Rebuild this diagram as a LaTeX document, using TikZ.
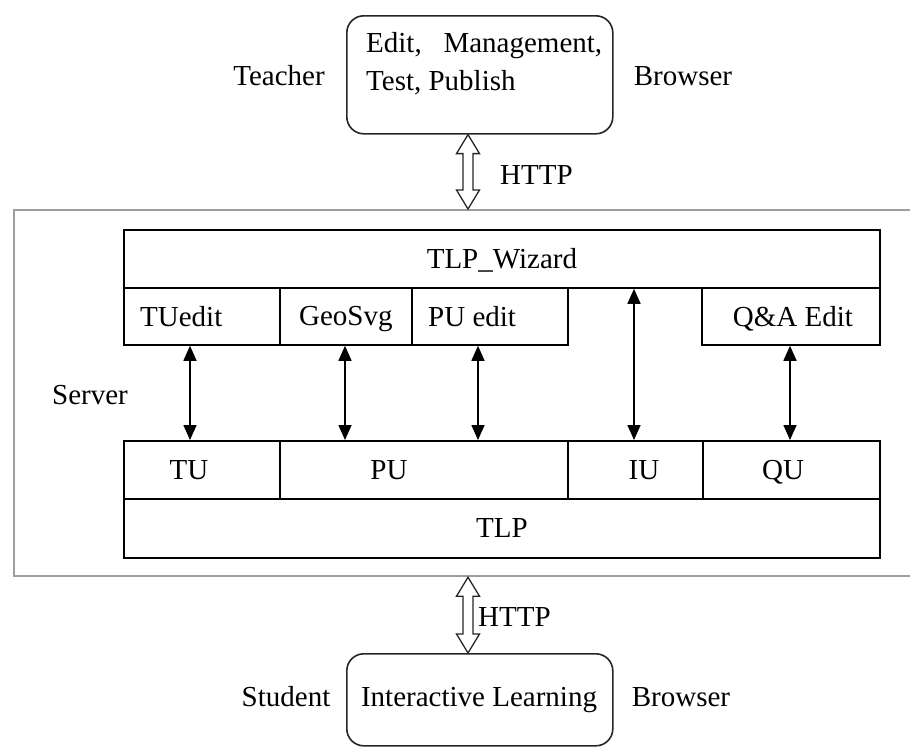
\documentclass[tikz,border=0pt]{standalone}
\usepackage{fontspec}
\setmainfont{Liberation Serif}
\usetikzlibrary{arrows.meta,calc}
\begin{document}
\begin{tikzpicture}[x=1pt,y=-1pt,
  lbl/.style={font=\fontsize{29}{34}\selectfont, inner sep=0pt, text height=19pt, text depth=0pt},
  cell/.style={draw=black, line width=1.8pt, inner sep=0pt, anchor=north west, font=\fontsize{29}{34}\selectfont, text height=19pt, text depth=0pt},
  rbox/.style={draw=black!85, line width=1.6pt, rounded corners=17pt, inner sep=0pt, anchor=north west},
  outer/.style={draw=black!38, line width=2.2pt, inner sep=0pt, anchor=north west},
  biarr/.style={line width=1.6pt, {Triangle[width=13pt,length=15pt]}-{Triangle[width=13pt,length=15pt]}},
  hollow/.style={draw=black!85, line width=1.3pt, fill=white, line join=miter}
]
\useasboundingbox (0,0) rectangle (910,747);

% outer server frame
\node[outer, minimum width=910pt, minimum height=366pt] (server) at (13,209) {};
\node[lbl] (serverl) at (90,395) {Server};

% teacher browser
\node[rbox, minimum width=266pt, minimum height=118pt] (teacher) at (346,15) {};
\node[lbl, anchor=west] (t1) at (366,43) {Edit,\ \ \ Management,};
\node[lbl, anchor=west] (t2) at (366,81) {Test, Publish};
\node[lbl] (teacherl) at (279,76) {Teacher};
\node[lbl] (browser1) at (683,76) {Browser};

% student browser
\node[rbox, minimum width=266pt, minimum height=92pt] (student) at (346,653) {};
\node[lbl] (studentt) at (479,697) {Interactive Learning};
\node[lbl] (studentl) at (286,697) {Student};
\node[lbl] (browser2) at (681,697) {Browser};

% wizard block
\node[cell, minimum width=756pt, minimum height=58pt] (wizard) at (123,229) {TLP\_Wizard};
\node[cell, minimum width=156pt, minimum height=57pt] (tuedit) at (123,287) {};
\node[cell, minimum width=132pt, minimum height=57pt] (geosvg) at (279,287) {GeoSvg};
\node[cell, minimum width=156pt, minimum height=57pt] (puedit) at (411,287) {};
\node[cell, minimum width=178pt, minimum height=57pt] (qaedit) at (701,287) {};
\node[lbl, anchor=west] (tueditt) at (140,317) {TUedit};
\node[lbl, anchor=west] (pueditt) at (428,317) {PU edit};
\node[lbl] (qaeditt) at (793,317) {Q\&A Edit};

% unit row
\node[cell, minimum width=156pt, minimum height=58pt] (tu) at (123,440) {};
\node[cell, minimum width=288pt, minimum height=58pt] (pu) at (279,440) {};
\node[cell, minimum width=135pt, minimum height=58pt] (iu) at (567,440) {};
\node[cell, minimum width=177pt, minimum height=58pt] (qu) at (702,440) {};
\node[cell, minimum width=756pt, minimum height=59pt] (tlp) at (123,498) {TLP};
\node[lbl] (tut) at (189,470) {TU};
\node[lbl] (put) at (389,470) {PU};
\node[lbl] (iut) at (644,470) {IU};
\node[lbl] (qut) at (783,470) {QU};

% arrow columns
\coordinate (c1) at (190,0);
\coordinate (c2) at (345,0);
\coordinate (c3) at (478,0);
\coordinate (c4) at (634,0);
\coordinate (c5) at (790,0);
\draw[biarr] (tuedit.south -| c1) -- (tu.north -| c1);
\draw[biarr] (geosvg.south -| c2) -- (pu.north -| c2);
\draw[biarr] (puedit.south -| c3) -- (pu.north -| c3);
\draw[biarr] (wizard.south -| c4) -- (iu.north -| c4);
\draw[biarr] (qaedit.south -| c5) -- (qu.north -| c5);

% hollow HTTP arrows
\coordinate (h) at (468,0);
\newcommand\hollowarrow[2]{%
  \draw[hollow] let \p1=(#1), \p2=(#2) in
    (\x1,\y1) -- (\x1+11.5pt,\y1-19pt) -- (\x1+5pt,\y1-19pt) -- (\x1+5pt,\y2+19pt)
    -- (\x1+11.5pt,\y2+19pt) -- (\x1,\y2) -- (\x1-11.5pt,\y2+19pt) -- (\x1-5pt,\y2+19pt)
    -- (\x1-5pt,\y1-19pt) -- (\x1-11.5pt,\y1-19pt) -- cycle;}
\hollowarrow{teacher.south -| h}{server.north -| h}
\hollowarrow{server.south -| h}{student.north -| h}
\node[lbl, anchor=west] (http1) at (500,175) {HTTP};
\node[lbl, anchor=west] (http2) at (478,617) {HTTP};
\end{tikzpicture}
\end{document}
